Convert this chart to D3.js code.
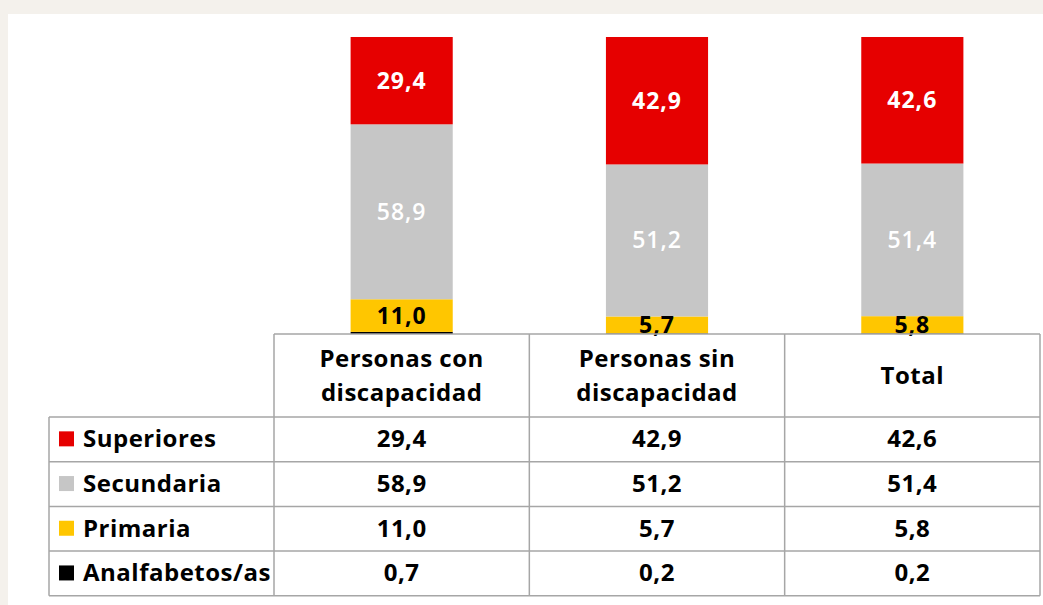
<!DOCTYPE html>
<html>
<head>
<meta charset="utf-8">
<script src="https://cdn.jsdelivr.net/npm/d3@7"></script>
<style>
  html, body { margin: 0; padding: 0; background: #f4f1ec; }
  svg { display: block; }
</style>
</head>
<body>
<div id="chart"></div>
<script>
// Nivel de estudios: barras apiladas al 100% con tabla de datos debajo

const categories = ["Personas con discapacidad", "Personas sin discapacidad", "Total"];
const headerLines = [["Personas con", "discapacidad"], ["Personas sin", "discapacidad"], ["Total"]];
const levels = ["Superiores", "Secundaria", "Primaria", "Analfabetos/as"];
const superiores = [29.4, 42.9, 42.6];
const secundaria = [58.9, 51.2, 51.4];
const primaria = [11.0, 5.7, 5.8];
const analfabetos = [0.7, 0.2, 0.2];

const series = [superiores, secundaria, primaria, analfabetos];
const colors = ["#e60000", "#c6c6c6", "#ffc600", "#000000"];
const labelColors = ["#ffffff", "#ffffff", "#000000", null];
const labelWeights = ["bold", "600", "bold", "bold"];

const fmt = v => d3.format(".1f")(v).replace(".", ",");

const W = 1043, H = 605;
const FONT = "'Open Sans', 'Noto Sans', sans-serif";

const svg = d3.select("#chart").append("svg")
  .attr("width", W).attr("height", H);

// white panel
svg.append("rect")
  .attr("x", 8).attr("y", 14)
  .attr("width", W - 8).attr("height", H - 14)
  .attr("fill", "#fff");

// layout
const tableLeft = 49, colLeft = 274, colRight = 1040;
const tableTop = 334, headerH = 83, rowH = 44.7;

const x = d3.scaleBand().domain(categories).range([colLeft, colRight]).padding(0);
const y = d3.scaleLinear().domain([0, 100]).range([tableTop, 37]);
const barW = x.bandwidth() * 0.4;

// stack bottom-up: analfabetos, primaria, secundaria, superiores
const rows = categories.map((c, i) => {
  const r = {cat: c};
  levels.forEach((l, k) => r[l] = series[k][i]);
  return r;
});
const stack = d3.stack().keys(levels.slice().reverse())(rows);

const gBars = svg.append("g");
stack.forEach(layer => {
  const k = levels.indexOf(layer.key);
  gBars.selectAll(null).data(layer).enter().append("rect")
    .attr("x", d => x(d.data.cat) + (x.bandwidth() - barW) / 2)
    .attr("y", d => y(d[1]))
    .attr("width", barW)
    .attr("height", d => y(d[0]) - y(d[1]))
    .attr("fill", colors[k]);
});

// bar labels
stack.forEach(layer => {
  const k = levels.indexOf(layer.key);
  if (!labelColors[k]) return;
  gBars.selectAll(null).data(layer).enter().append("text")
    .attr("x", d => x(d.data.cat) + x.bandwidth() / 2)
    .attr("y", d => (y(d[0]) + y(d[1])) / 2 + 8)
    .attr("text-anchor", "middle")
    .attr("font-family", FONT)
    .attr("font-size", 23)
    .attr("letter-spacing", 1)
    .attr("font-weight", labelWeights[k])
    .attr("fill", labelColors[k])
    .text(d => fmt(d.data[layer.key]));
});

// data table
const gT = svg.append("g")
  .attr("font-family", FONT).attr("font-weight", "bold").attr("fill", "#000")
  .attr("letter-spacing", 0.5);
const lineC = "#a6a6a6";
const bottom = tableTop + headerH + rowH * levels.length;

// horizontal lines
gT.append("line").attr("x1", colLeft).attr("x2", colRight)
  .attr("y1", tableTop).attr("y2", tableTop)
  .attr("stroke", lineC).attr("stroke-width", 1.5);
d3.range(levels.length + 1).forEach(i => {
  const yy = tableTop + headerH + i * rowH;
  gT.append("line").attr("x1", tableLeft).attr("x2", colRight)
    .attr("y1", yy).attr("y2", yy)
    .attr("stroke", lineC).attr("stroke-width", 1.5);
});
// vertical lines
gT.append("line").attr("x1", tableLeft).attr("x2", tableLeft)
  .attr("y1", tableTop + headerH).attr("y2", bottom)
  .attr("stroke", lineC).attr("stroke-width", 1.5);
[colLeft].concat(categories.map(c => x(c) + x.bandwidth())).forEach(xx => {
  gT.append("line").attr("x1", xx).attr("x2", xx)
    .attr("y1", tableTop).attr("y2", bottom)
    .attr("stroke", lineC).attr("stroke-width", 1.5);
});

// header text
categories.forEach((c, i) => {
  const lines = headerLines[i];
  const cy = tableTop + headerH / 2;
  const lh = 34;
  lines.forEach((t, j) => {
    gT.append("text")
      .attr("x", x(c) + x.bandwidth() / 2)
      .attr("y", cy + (j - (lines.length - 1) / 2) * lh + 8)
      .attr("text-anchor", "middle")
      .attr("font-size", 24)
      .text(t);
  });
});

// rows
levels.forEach((l, k) => {
  const yy = tableTop + headerH + k * rowH;
  gT.append("rect")
    .attr("x", 59).attr("y", yy + rowH / 2 - 8)
    .attr("width", 15).attr("height", 15)
    .attr("fill", colors[k]);
  gT.append("text")
    .attr("x", 83).attr("y", yy + rowH / 2 + 8)
    .attr("font-size", 24)
    .text(l);
  categories.forEach((c, i) => {
    gT.append("text")
      .attr("x", x(c) + x.bandwidth() / 2)
      .attr("y", yy + rowH / 2 + 8)
      .attr("text-anchor", "middle")
      .attr("font-size", 24)
      .text(fmt(series[k][i]));
  });
});
</script>
</body>
</html>
